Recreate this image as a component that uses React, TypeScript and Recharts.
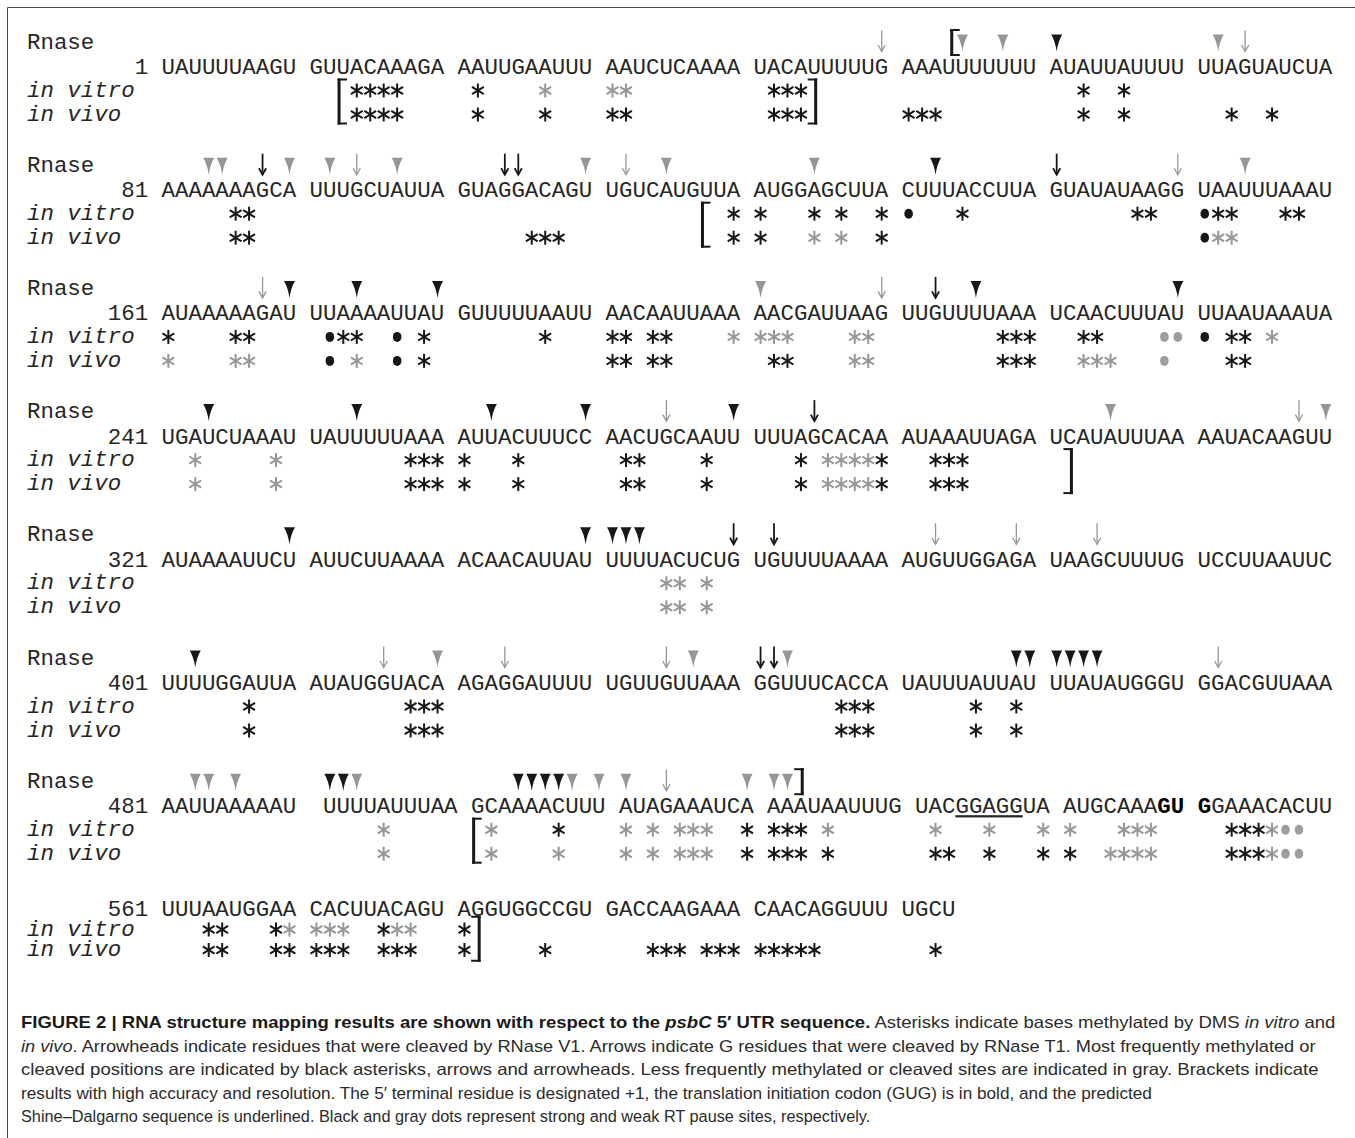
import React from "react";
import { ScatterChart, Scatter, XAxis, YAxis } from "recharts";

const W = 1355;
const H = 1138;
const CHAR_W = 13.46;
const ORIGIN_X = 27;
const FONT_SIZE = CHAR_W / 0.6;
const BLACK = "#171717";
const GRAY = "#969696";
const MONO = "'Liberation Mono', 'DejaVu Sans Mono', monospace";
const SANS = "'Liberation Sans', Arial, sans-serif";

// sequence, 80 nt per line (line 481 keeps the spacing of the original figure)
const blockStarts = [1, 81, 161, 241, 321, 401, 481, 561];
const sequenceLines = [
  "UAUUUUAAGU GUUACAAAGA AAUUGAAUUU AAUCUCAAAA UACAUUUUUG AAAUUUUUUU AUAUUAUUUU UUAGUAUCUA",
  "AAAAAAAGCA UUUGCUAUUA GUAGGACAGU UGUCAUGUUA AUGGAGCUUA CUUUACCUUA GUAUAUAAGG UAAUUUAAAU",
  "AUAAAAAGAU UUAAAAUUAU GUUUUUAAUU AACAAUUAAA AACGAUUAAG UUGUUUUAAA UCAACUUUAU UUAAUAAAUA",
  "UGAUCUAAAU UAUUUUUAAA AUUACUUUCC AACUGCAAUU UUUAGCACAA AUAAAUUAGA UCAUAUUUAA AAUACAAGUU",
  "AUAAAAUUCU AUUCUUAAAA ACAACAUUAU UUUUACUCUG UGUUUUAAAA AUGUUGGAGA UAAGCUUUUG UCCUUAAUUC",
  "UUUUGGAUUA AUAUGGUACA AGAGGAUUUU UGUUGUUAAA GGUUUCACCA UAUUUAUUAU UUAUAUGGGU GGACGUUAAA",
  "AAUUAAAAAU  UUUUAUUUAA GCAAAACUUU AUAGAAAUCA AAAUAAUUUG UACGGAGGUA AUGCAAAGU GGAAACACUU",
  "UUUAAUGGAA CACUUACAGU AGGUGGCCGU GACCAAGAAA CAACAGGUUU UGCU",
];
const startCodon = [548, 549, 550];
const shineDalgarno = [534, 535, 536, 537, 538];

// RNase cleavage (V1 arrowheads, T1 arrows)
const v1Black = [61, 133, 170, 174, 180, 216, 230, 244, 254, 263, 270, 280, 330, 350, 351, 352, 353, 403, 459, 460, 461, 462, 463, 464, 491, 492, 504, 505, 506, 507];
const v1Gray = [55, 58, 72, 84, 85, 90, 92, 97, 110, 115, 125, 154, 201, 305, 320, 420, 437, 443, 483, 484, 486, 493, 508, 510, 511, 520, 521, 522];
const t1Black = [88, 104, 105, 141, 213, 285, 360, 362, 441, 442];
const t1Gray = [50, 74, 94, 112, 150, 168, 210, 275, 318, 373, 379, 384, 416, 424, 435, 472, 514];

// DMS methylation
const vitroBlack = [14, 15, 16, 17, 22, 42, 43, 44, 63, 66, 86, 87, 120, 121, 125, 127, 130, 135, 147, 148, 152, 153, 157, 158, 161, 166, 167, 173, 174, 179, 187, 191, 192, 194, 195, 218, 219, 220, 223, 224, 233, 234, 258, 259, 260, 261, 265, 272, 273, 278, 284, 290, 293, 294, 295, 407, 418, 419, 420, 447, 448, 449, 456, 459, 507, 520, 521, 522, 523, 552, 553, 554, 564, 565, 569, 576, 581];
const vitroGray = [27, 31, 32, 200, 201, 202, 203, 208, 209, 236, 243, 249, 286, 287, 288, 289, 355, 356, 358, 495, 502, 511, 513, 515, 516, 517, 525, 532, 536, 540, 541, 545, 546, 547, 555, 570, 571, 572, 573, 577, 578];
const vivoBlack = [14, 15, 16, 17, 22, 27, 31, 32, 42, 43, 44, 51, 52, 53, 63, 66, 73, 76, 86, 87, 106, 107, 108, 120, 121, 130, 179, 191, 192, 194, 195, 202, 203, 218, 219, 220, 233, 234, 258, 259, 260, 261, 265, 272, 273, 278, 284, 290, 293, 294, 295, 407, 418, 419, 420, 447, 448, 449, 456, 459, 520, 521, 522, 523, 525, 532, 533, 536, 540, 541, 552, 553, 554, 564, 565, 569, 570, 571, 572, 573, 576, 577, 578, 581, 587, 594, 595, 596, 598, 599, 600, 601, 602, 603, 604, 605, 613];
const vivoGray = [125, 127, 152, 153, 161, 166, 167, 174, 208, 209, 223, 224, 225, 243, 249, 286, 287, 288, 289, 355, 356, 358, 495, 502, 507, 511, 513, 515, 516, 517, 544, 545, 546, 547, 555];

// RT pause sites
const vitroDotBlack = [131, 151, 172, 177, 231];
const vitroDotGray = [229, 230, 556, 557];
const vivoDotBlack = [151, 172, 177];
const vivoDotGray = [229, 556, 557];

// brackets
const brackets = [
  { nt: 55, side: "open", row: "rnase" },
  { nt: 14, side: "open", row: "probe" },
  { nt: 44, side: "close", row: "probe" },
  { nt: 119, side: "open", row: "probe" },
  { nt: 301, side: "close", row: "probe" },
  { nt: 522, side: "close", row: "rnase" },
  { nt: 502, side: "open", row: "probe" },
  { nt: 581, side: "close", row: "probe" },
];

const captionLines: [string, string][][] = [
  [["FIGURE 2 | RNA structure mapping results are shown with respect to the ", "b"], ["psbC", "bi"], [" 5\u2032 UTR sequence.", "b"], [" Asterisks indicate bases methylated by DMS ", ""], ["in vitro", "i"], [" and", ""]],
  [["in vivo", "i"], [". Arrowheads indicate residues that were cleaved by RNase V1. Arrows indicate G residues that were cleaved by RNase T1. Most frequently methylated or", ""]],
  [["cleaved positions are indicated by black asterisks, arrows and arrowheads. Less frequently methylated or cleaved sites are indicated in gray. Brackets indicate", ""]],
  [["results with high accuracy and resolution. The 5\u2032 terminal residue is designated +1, the translation initiation codon (GUG) is in bold, and the predicted", ""]],
  [["Shine\u2013Dalgarno sequence is underlined. Black and gray dots represent strong and weak RT pause sites, respectively.", ""]],
];
const captionWidths = [1315, 1297, 1297, 1130, 850];
const CAPTION_SIZE = 16.3;

// layout
const BLOCK_TOP = 42.5;
const BLOCK_PITCH = 123.2;
function rowY(block: number, row: string) {
  if (block === 7) {
    const s = 909;
    return row === "seq" ? s : row === "vitro" ? s + 20.5 : s + 41;
  }
  const t = BLOCK_TOP + block * BLOCK_PITCH;
  return ({ rnase: t, seq: t + 25, vitro: t + 48, vivo: t + 72 } as any)[row];
}

const ntInfo = new Map<number, { block: number; col: number }>();
sequenceLines.forEach((line, b) => {
  let nt = blockStarts[b];
  for (let i = 0; i < line.length; i++) {
    if (line[i] !== " ") {
      ntInfo.set(nt, { block: b, col: 10 + i });
      nt++;
    }
  }
});

const pts = (nts: number[], row: string) =>
  nts.map((n) => {
    const p = ntInfo.get(n)!;
    return { x: p.col + 0.5, y: rowY(p.block, row), nt: n };
  });

const labelPoints: any[] = [];
const seqPoints: any[] = [];
sequenceLines.forEach((line, b) => {
  if (b < 7) labelPoints.push({ x: 0, y: rowY(b, "rnase"), text: "Rnase", italic: false });
  labelPoints.push({ x: 0, y: rowY(b, "vitro"), text: "in vitro", italic: true });
  labelPoints.push({ x: 0, y: rowY(b, "vivo"), text: "in vivo", italic: true });
  seqPoints.push({ x: 0, y: rowY(b, "seq"), block: b });
});

const bracketPoints = brackets.map((br) => {
  const p = ntInfo.get(br.nt)!;
  const y =
    br.row === "rnase"
      ? rowY(p.block, "rnase")
      : (rowY(p.block, "vitro") + rowY(p.block, "vivo")) / 2 - 1;
  return { x: br.side === "open" ? p.col : p.col + 1, y, side: br.side, row: br.row };
});

function segmentsFor(b: number) {
  const line = sequenceLines[b];
  const full = String(blockStarts[b]).padStart(9, " ") + " " + line;
  const flags: string[] = [];
  let nt = blockStarts[b];
  for (let i = 0; i < full.length; i++) {
    let f = "";
    if (i >= 10 && full[i] !== " ") {
      if (startCodon.includes(nt)) f = "b";
      else if (shineDalgarno.includes(nt)) f = "u";
      nt++;
    }
    flags.push(f);
  }
  const segs: { text: string; f: string }[] = [];
  for (let i = 0; i < full.length; i++) {
    const last = segs[segs.length - 1];
    if (last && last.f === flags[i]) last.text += full[i];
    else segs.push({ text: full[i], f: flags[i] });
  }
  return segs;
}

// natural width of a caption line, to squeeze it like the condensed original face
function captionWidth(line: [string, string][], fallback: number) {
  const ctx = document.createElement("canvas").getContext("2d");
  if (!ctx) return fallback / 0.9;
  let w = 0;
  line.forEach(([t, f]) => {
    ctx.font = `${f.includes("i") ? "italic" : "normal"} ${f.includes("b") ? "bold" : "normal"} ${CAPTION_SIZE}px 'Liberation Sans'`;
    w += ctx.measureText(t).width;
  });
  return w;
}

const LabelShape = (props: any) => {
  const { cx, cy, payload } = props;
  return (
    <text x={cx} y={cy + 6} fontFamily={MONO} fontSize={FONT_SIZE} fontStyle={payload.italic ? "italic" : "normal"} fill="#262626" style={{ whiteSpace: "pre" }}>
      {payload.text}
    </text>
  );
};

const SeqShape = (props: any) => {
  const { cx, cy, payload } = props;
  return (
    <text x={cx} y={cy + 6.5} fontFamily={MONO} fontSize={FONT_SIZE} fill="#262626" xmlSpace="preserve" style={{ whiteSpace: "pre" }}>
      {segmentsFor(payload.block).map((s, i) => (
        <tspan key={i} fontWeight={s.f === "b" ? "bold" : "normal"} fill={s.f === "b" ? "#000" : "#262626"} textDecoration={s.f === "u" ? "underline" : undefined}>
          {s.text}
        </tspan>
      ))}
    </text>
  );
};

const asterisk = (color: string) => (props: any) => {
  const { cx, cy } = props;
  return (
    <g stroke={color} strokeWidth={2}>
      <line x1={cx} y1={cy - 7} x2={cx} y2={cy + 7} />
      <line x1={cx - 5.9} y1={cy - 3.6} x2={cx + 5.9} y2={cy + 3.6} />
      <line x1={cx - 5.9} y1={cy + 3.6} x2={cx + 5.9} y2={cy - 3.6} />
    </g>
  );
};

const arrowhead = (color: string) => (props: any) => {
  const { cx, cy } = props;
  return (
    <path
      d={`M${cx - 5.5},${cy - 8} L${cx + 5.5},${cy - 8} Q${cx + 1.4},${cy - 1} ${cx},${cy + 9} Q${cx - 1.4},${cy - 1} ${cx - 5.5},${cy - 8} Z`}
      fill={color}
    />
  );
};

const arrow = (color: string, w: number) => (props: any) => {
  const { cx, cy } = props;
  return (
    <g stroke={color} strokeWidth={w} fill="none">
      <line x1={cx} y1={cy - 12} x2={cx} y2={cy + 9} />
      <polyline points={`${cx - 3.6},${cy + 2.5} ${cx},${cy + 9} ${cx + 3.6},${cy + 2.5}`} />
    </g>
  );
};

const dot = (color: string) => (props: any) => {
  const { cx, cy } = props;
  return <ellipse cx={cx} cy={cy} rx={4.3} ry={5} fill={color} />;
};

const BracketShape = (props: any) => {
  const { cx, cy, payload } = props;
  const half = payload.row === "rnase" ? 13.5 : 23;
  const open = payload.side === "open";
  const bx = open ? cx - (payload.row === "rnase" ? 4 : 11) : cx + 8;
  const d = open ? 8 : -8;
  return (
    <g stroke={BLACK} fill="none">
      <line x1={bx} y1={cy - half} x2={bx} y2={cy + half} strokeWidth={3} />
      <line x1={bx - (open ? 1.5 : -1.5)} y1={cy - half + 1} x2={bx + d} y2={cy - half + 1} strokeWidth={2} />
      <line x1={bx - (open ? 1.5 : -1.5)} y1={cy + half - 1} x2={bx + d} y2={cy + half - 1} strokeWidth={2} />
    </g>
  );
};

const series = [
  { key: "v1b", data: pts(v1Black, "rnase"), shape: arrowhead(BLACK) },
  { key: "v1g", data: pts(v1Gray, "rnase"), shape: arrowhead(GRAY) },
  { key: "t1b", data: pts(t1Black, "rnase"), shape: arrow(BLACK, 1.8) },
  { key: "t1g", data: pts(t1Gray, "rnase"), shape: arrow(GRAY, 1.3) },
  { key: "vitg", data: pts(vitroGray, "vitro"), shape: asterisk(GRAY) },
  { key: "vivg", data: pts(vivoGray, "vivo"), shape: asterisk(GRAY) },
  { key: "vitb", data: pts(vitroBlack, "vitro"), shape: asterisk(BLACK) },
  { key: "vivb", data: pts(vivoBlack, "vivo"), shape: asterisk(BLACK) },
  { key: "vitdb", data: pts(vitroDotBlack, "vitro"), shape: dot(BLACK) },
  { key: "vitdg", data: pts(vitroDotGray, "vitro"), shape: dot("#9d9d9d") },
  { key: "vivdb", data: pts(vivoDotBlack, "vivo"), shape: dot(BLACK) },
  { key: "vivdg", data: pts(vivoDotGray, "vivo"), shape: dot("#9d9d9d") },
];

export default function App() {
  const xDomain = [-ORIGIN_X / CHAR_W, (W - ORIGIN_X) / CHAR_W];
  return (
    <div style={{ position: "absolute", left: 0, top: 0, width: W, height: H, background: "#fff" }}>
      <ScatterChart width={W} height={H} margin={{ top: 0, right: 0, bottom: 0, left: 0 }}>
        <XAxis type="number" dataKey="x" domain={xDomain} allowDataOverflow hide />
        <YAxis type="number" dataKey="y" domain={[0, H]} allowDataOverflow reversed hide width={0} />
        <Scatter data={labelPoints} shape={LabelShape} isAnimationActive={false} />
        <Scatter data={seqPoints} shape={SeqShape} isAnimationActive={false} />
        {series.map((s) => (
          <Scatter key={s.key} data={s.data} shape={s.shape} isAnimationActive={false} />
        ))}
        <Scatter data={bracketPoints} shape={BracketShape} isAnimationActive={false} />
      </ScatterChart>
      <svg width={W} height={H} style={{ position: "absolute", left: 0, top: 0, pointerEvents: "none" }}>
        <path d={`M7.5,${H} V7.5 H${W}`} stroke="#4a4a4a" strokeWidth={1} fill="none" />
        {captionLines.map((line, i) => {
          const sx = captionWidths[i] / captionWidth(line, captionWidths[i]);
          return (
            <text
              key={i}
              transform={`translate(21 ${1028 + i * 23.5}) scale(${sx} 1)`}
              x={0}
              y={0}
              fontFamily={SANS}
              fontSize={CAPTION_SIZE}
              fill="#2b2b2b"
              style={{ whiteSpace: "pre" }}
            >
              {line.map(([t, f], j) => (
                <tspan key={j} fontWeight={f.includes("b") ? "bold" : "normal"} fontStyle={f.includes("i") ? "italic" : "normal"} fill={f.includes("b") ? "#1a1a1a" : "#2b2b2b"}>
                  {t}
                </tspan>
              ))}
            </text>
          );
        })}
      </svg>
    </div>
  );
}
